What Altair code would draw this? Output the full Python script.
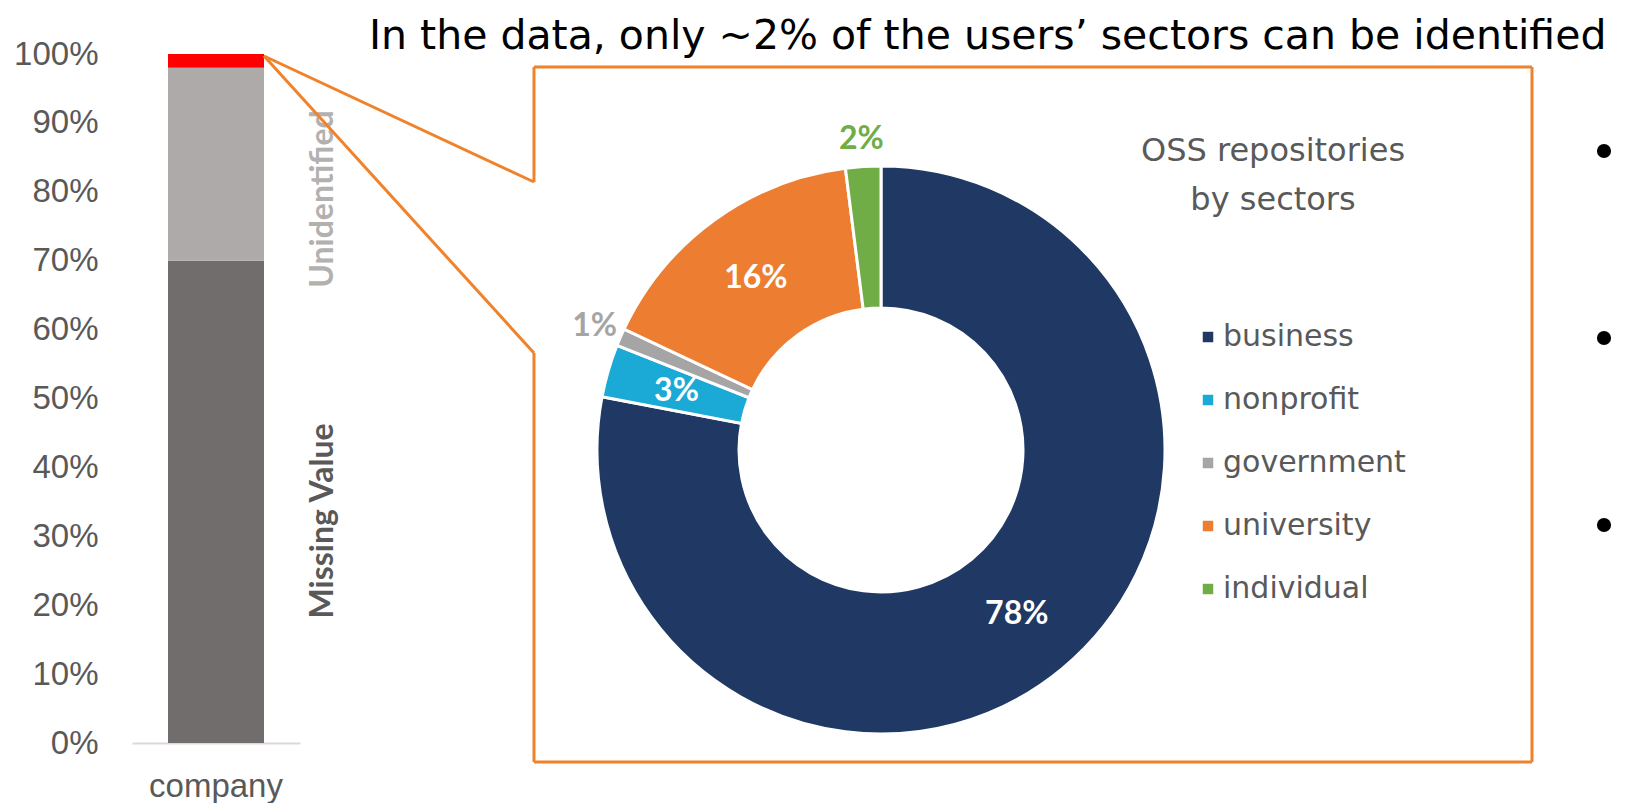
import altair as alt
import pandas as pd

# ---------------- data ----------------
bar_groups = ["company", "company", "company"]
bar_segments = ["Missing Value", "Unidentified", "Identified"]
bar_shares = [0.70, 0.28, 0.02]
y_tick_values = [0, 0.1, 0.2, 0.3, 0.4, 0.5, 0.6, 0.7, 0.8, 0.9, 1.0]

sectors = ["business", "nonprofit", "government", "university", "individual"]
sector_shares = [78, 3, 1, 16, 2]

title_text = "In the data, only ~2% of the users’ sectors can be identified"
donut_title = ["OSS repositories", "by sectors"]

# ---------------- styles ----------------
bar_colors = ["#716d6c", "#adaaa9", "#ff0000"]
sector_colors = ["#1f3864", "#1ba9d5", "#a5a5a5", "#ed7d31", "#70ad47"]
ORANGE = "#f0822a"
GRAY_TXT = "#595959"

W, H = 1514, 735
CX, CY = 773, 442  # donut centre (plot coords)

bar_df = pd.DataFrame({"group": bar_groups, "segment": bar_segments, "share": bar_shares})
donut_df = pd.DataFrame({"sector": sectors, "share": sector_shares})
one = pd.DataFrame({"k": [0]})

bars = alt.Chart(bar_df).transform_window(rank="row_number()").mark_bar(width=96).encode(
    x=alt.X("group:N", scale=alt.Scale(range=[24, 192], paddingInner=0, paddingOuter=0),
            axis=alt.Axis(title=None, domainColor="#d9d9d9", domainWidth=2, ticks=False,
                          labelFont="Liberation Sans", labelFontSize=33, labelColor=GRAY_TXT,
                          labelPadding=27, labelAngle=0)),
    y=alt.Y("share:Q", stack="zero", scale=alt.Scale(domain=[0, 1], range=[735, 46], nice=False),
            axis=alt.Axis(values=y_tick_values, format=".0%", title=None, domain=False, ticks=False,
                          grid=False, labelFont="Liberation Sans", labelFontSize=33,
                          labelColor=GRAY_TXT, labelPadding=10)),
    color=alt.Color("segment:N", scale=alt.Scale(domain=bar_segments, range=bar_colors), legend=None),
    order=alt.Order("rank:Q"),
)

seg_unid = alt.Chart(one).mark_text(angle=270, font="Lato", fontWeight="bold", fontSize=32,
                                    color="#b3b1b0", baseline="middle", align="center").encode(
    x=alt.value(215), y=alt.value(191), text=alt.value("Unidentified"))
seg_miss = alt.Chart(one).mark_text(angle=270, font="Lato", fontWeight="bold", fontSize=32,
                                    color=GRAY_TXT, baseline="middle", align="center").encode(
    x=alt.value(215), y=alt.value(513), text=alt.value("Missing Value"))

legend_def = alt.Legend(orient="none", legendX=1085, legendY=314, direction="vertical", title=None,
                        symbolType="square", symbolSize=110, symbolStrokeWidth=0,
                        labelFont="DejaVu Sans", labelFontSize=30, labelColor=GRAY_TXT,
                        labelLimit=0, rowPadding=33, labelOffset=0, padding=0)
color_enc = alt.Color("sector:N", scale=alt.Scale(domain=sectors, range=sector_colors), legend=legend_def)

base = alt.Chart(donut_df).transform_window(rank="row_number()").transform_calculate(
    inner="datum.share >= 3 ? datum.share + '%' : ''",
    outer="datum.share < 3 ? datum.share + '%' : ''",
)
theta_enc = alt.Theta("share:Q", stack=True)

arcs = base.mark_arc(outerRadius=284, innerRadius=142, stroke="white", strokeWidth=3).encode(
    theta=theta_enc, color=color_enc, order=alt.Order("rank:Q"),
    x=alt.value(CX), y=alt.value(CY))
inner_lbl = base.mark_text(radius=213, font="Lato", fontWeight="bold", fontSize=32, color="white").encode(
    theta=theta_enc, detail="sector:N", order=alt.Order("rank:Q"), text="inner:N",
    x=alt.value(CX), y=alt.value(CY))
outer_lbl = base.mark_text(radius=312, font="Lato", fontWeight="bold", fontSize=32).encode(
    theta=theta_enc, color=color_enc, order=alt.Order("rank:Q"), text="outer:N",
    x=alt.value(CX), y=alt.value(CY))
donut = alt.layer(arcs, inner_lbl, outer_lbl)

donut_ttl = alt.Chart(one).mark_text(font="DejaVu Sans", fontSize=32, color=GRAY_TXT,
                                     align="center", baseline="middle", lineHeight=49).encode(
    x=alt.value(1165), y=alt.value(143), text=alt.value(donut_title))

main_title = alt.Chart(one).mark_text(font="DejaVu Sans", fontSize=41, color="black",
                                      align="left", baseline="alphabetic").encode(
    x=alt.value(261), y=alt.value(41), text=alt.value(title_text))


def seg(x1, y1, x2, y2):
    return alt.Chart(one).mark_rule(color=ORANGE, strokeWidth=3).encode(
        x=alt.value(x1), y=alt.value(y1), x2=alt.value(x2), y2=alt.value(y2))


frame = [
    seg(426, 59, 1424, 59),
    seg(1424, 59, 1424, 754),
    seg(426, 754, 1424, 754),
    seg(426, 59, 426, 174),
    seg(426, 345, 426, 754),
    seg(156, 48, 426, 174),
    seg(156, 48, 426, 345),
]

bullets = [
    alt.Chart(one).mark_circle(size=200, color="black", opacity=1).encode(x=alt.value(1496), y=alt.value(yy))
    for yy in (143, 330, 517)
]

chart = alt.layer(bars, seg_unid, seg_miss, donut, donut_ttl, main_title, *frame, *bullets).resolve_scale(
    color="independent"
).properties(
    width=W, height=H,
    background="white",
    autosize=alt.AutoSizeParams(type="none"),
    padding={"left": 100, "top": 0, "right": 0, "bottom": 60},
).configure_view(stroke=None)

chart.save("out.html", embed_options={"renderer": "svg", "actions": False})
